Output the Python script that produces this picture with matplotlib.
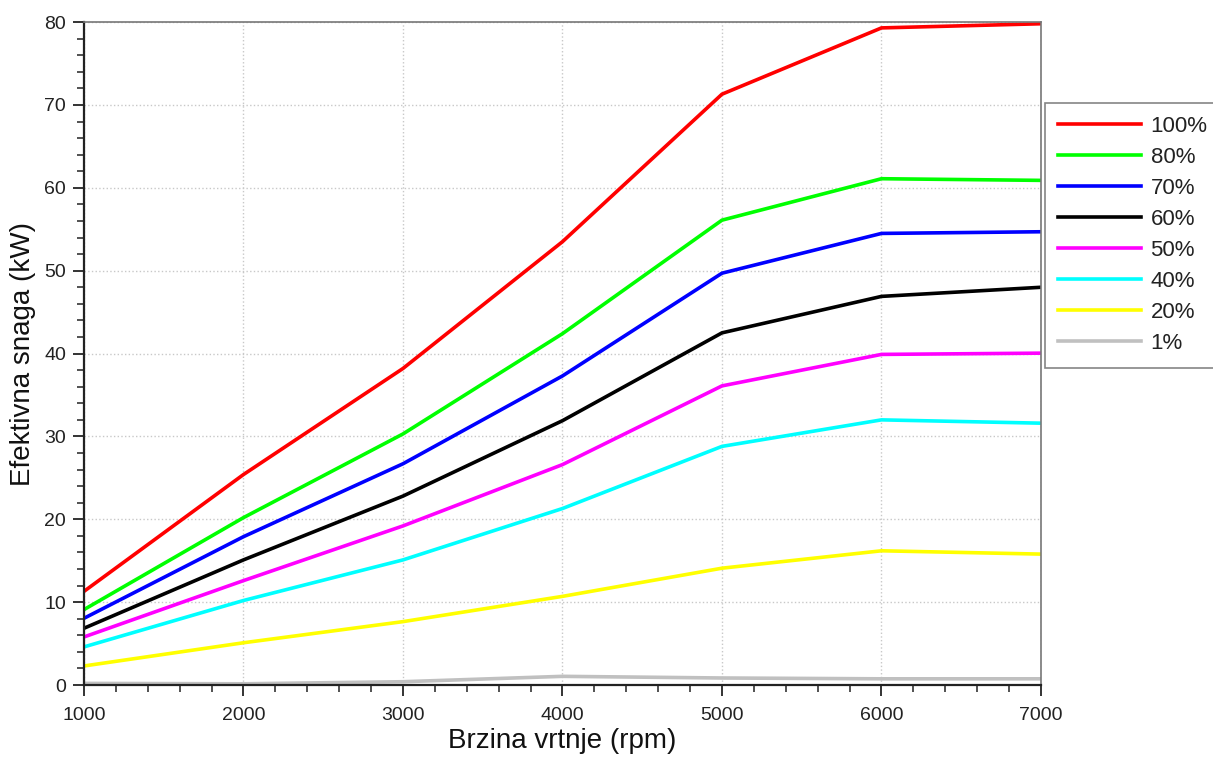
import matplotlib
matplotlib.use("Agg")
import matplotlib.pyplot as plt
from matplotlib.ticker import MultipleLocator

plt.rcParams['font.family'] = ['Liberation Sans', 'DejaVu Sans']

# engine speed (rpm)
rpm = [1000, 2000, 3000, 4000, 5000, 6000, 7000]

# effective power (kW) per throttle opening
p100 = [11.3, 25.4, 38.2, 53.5, 71.3, 79.3, 79.8]
p80 = [9.1, 20.2, 30.3, 42.4, 56.1, 61.1, 60.9]
p70 = [8.05, 17.9, 26.7, 37.3, 49.7, 54.5, 54.7]
p60 = [6.85, 15.1, 22.8, 31.9, 42.5, 46.9, 48.0]
p50 = [5.8, 12.6, 19.2, 26.6, 36.1, 39.9, 40.05]
p40 = [4.6, 10.2, 15.1, 21.3, 28.8, 32.0, 31.6]
p20 = [2.3, 5.1, 7.65, 10.7, 14.1, 16.2, 15.8]
p1 = [0.2, 0.15, 0.4, 1.05, 0.85, 0.75, 0.75]

series = [p100, p80, p70, p60, p50, p40, p20, p1]
labels = ['100%', '80%', '70%', '60%', '50%', '40%', '20%', '1%']
colors = ['#ff0000', '#00ff00', '#0000ff', '#000000', '#ff00ff', '#00ffff', '#ffff00', '#c0c0c0']

fig = plt.figure(figsize=(12.13, 7.62), dpi=100)
ax = fig.add_axes([0.0692, 0.101, 0.7890, 0.870])

for vals, lab, col in zip(series, labels, colors):
    ax.plot(rpm, vals, color=col, lw=2.6, label=lab, solid_joinstyle='miter')

ax.set_xlim(1000, 7000)
ax.set_ylim(0, 80)
ax.xaxis.set_major_locator(MultipleLocator(1000))
ax.xaxis.set_minor_locator(MultipleLocator(200))
ax.yaxis.set_major_locator(MultipleLocator(10))
ax.yaxis.set_minor_locator(MultipleLocator(2))

ax.grid(True, which='major', color='#c8c8c8', linestyle=':', linewidth=1.0)

for side in ['left', 'bottom']:
    ax.spines[side].set_color('#222222')
    ax.spines[side].set_linewidth(1.6)
for side in ['top', 'right']:
    ax.spines[side].set_color('#777777')
    ax.spines[side].set_linewidth(1.2)

ax.tick_params(which='major', direction='out', length=8, width=1.4, color='#333333',
               labelsize=14, labelcolor='#222222', top=False, right=False)
ax.tick_params(which='minor', direction='out', length=5, width=1.2, color='#333333',
               top=False, right=False)
ax.tick_params(axis='x', which='major', pad=8)
ax.tick_params(axis='y', which='major', pad=5)

ax.set_xlabel('Brzina vrtnje (rpm)', fontsize=20, color='#111111', labelpad=3)
ax.set_ylabel('Efektivna snaga (kW)', fontsize=20, color='#111111', labelpad=6)

leg = ax.legend(loc='upper left', bbox_to_anchor=(0.8615, 0.865), bbox_transform=fig.transFigure,
                fontsize=16, frameon=True, fancybox=False, edgecolor='#666666',
                handlelength=3.7, handletextpad=0.45, labelspacing=0.45,
                borderpad=0.6, borderaxespad=0)
leg.get_frame().set_linewidth(1.2)
for t in leg.get_texts():
    t.set_color('#222222')

fig.savefig('out.png', dpi=100)
